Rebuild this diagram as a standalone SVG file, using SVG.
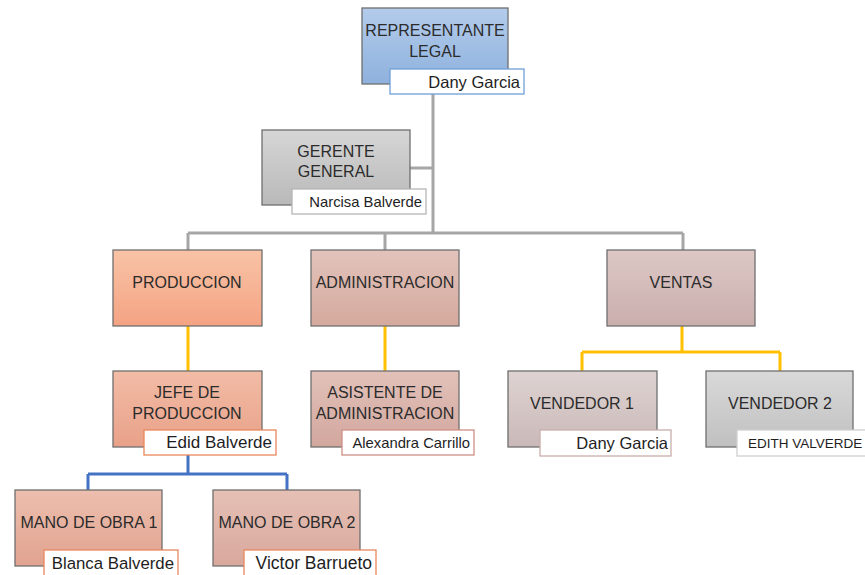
<svg xmlns="http://www.w3.org/2000/svg" width="865" height="575" viewBox="0 0 865 575">
<defs>
<linearGradient id="gBlue" x1="0" y1="0" x2="0" y2="1"><stop offset="0" stop-color="#b4cceb"/><stop offset="1" stop-color="#8eb1dd"/></linearGradient>
<linearGradient id="gGray" x1="0" y1="0" x2="0" y2="1"><stop offset="0" stop-color="#d6d6d6"/><stop offset="1" stop-color="#b9b9b9"/></linearGradient>
<linearGradient id="gProd" x1="0" y1="0" x2="0" y2="1"><stop offset="0" stop-color="#f9c3a6"/><stop offset="1" stop-color="#f4a383"/></linearGradient>
<linearGradient id="gAdm" x1="0" y1="0" x2="0" y2="1"><stop offset="0" stop-color="#e2c3bb"/><stop offset="1" stop-color="#d5a99d"/></linearGradient>
<linearGradient id="gVen" x1="0" y1="0" x2="0" y2="1"><stop offset="0" stop-color="#ddc8c6"/><stop offset="1" stop-color="#c9aeac"/></linearGradient>
<linearGradient id="gJefe" x1="0" y1="0" x2="0" y2="1"><stop offset="0" stop-color="#f2bca6"/><stop offset="1" stop-color="#e9a189"/></linearGradient>
<linearGradient id="gAsis" x1="0" y1="0" x2="0" y2="1"><stop offset="0" stop-color="#e2c1b9"/><stop offset="1" stop-color="#d2a79e"/></linearGradient>
<linearGradient id="gV1" x1="0" y1="0" x2="0" y2="1"><stop offset="0" stop-color="#ded3d2"/><stop offset="1" stop-color="#c9b9b8"/></linearGradient>
<linearGradient id="gV2" x1="0" y1="0" x2="0" y2="1"><stop offset="0" stop-color="#d9d9d9"/><stop offset="1" stop-color="#c0c0c0"/></linearGradient>
<linearGradient id="gM1" x1="0" y1="0" x2="0" y2="1"><stop offset="0" stop-color="#edbfae"/><stop offset="1" stop-color="#e1a390"/></linearGradient>
<linearGradient id="gM2" x1="0" y1="0" x2="0" y2="1"><stop offset="0" stop-color="#e6c0b5"/><stop offset="1" stop-color="#d9a89d"/></linearGradient>
</defs>
<style>
.box{stroke:#6f6f6f;stroke-width:1.3}
.name{fill:#ffffff;stroke-width:1.3}
.t{font-family:"Liberation Sans",Arial,sans-serif;font-size:16px;fill:#2b2b2b;text-anchor:middle}
.n{font-family:"Liberation Sans",Arial,sans-serif;font-size:16.5px;fill:#1e1e1e;text-anchor:end}
.cg{fill:none;stroke:#a6a6a6;stroke-width:3}
.cy{fill:none;stroke:#ffc000;stroke-width:3}
.cb{fill:none;stroke:#4472c4;stroke-width:3}
</style>
<g id="connectors">
<path class="cg" d="M433 94 V233 M410 168 H433 M188 233 H683 M188 233 V250 M385 233 V250 M683 233 V250"/>
<path class="cy" d="M188 326 V371 M385 326 V371 M682 326 V352 M582 352 H780 M582 352 V371 M780 352 V371"/>
<path class="cb" d="M188 455 V474 M88 474 H287 M88 474 V490 M287 474 V490"/>
</g>
<g id="representante">
<rect class="box" x="362" y="8" width="146" height="76" fill="url(#gBlue)"/>
<text class="t" x="435" y="36">REPRESENTANTE</text>
<text class="t" x="435" y="57">LEGAL</text>
<rect class="name" x="390" y="69" width="134" height="25" stroke="#6fa0d6"/>
<text class="n" x="520" y="88">Dany Garcia</text>
</g>
<g id="gerente">
<rect class="box" x="262" y="130" width="148" height="75" fill="url(#gGray)"/>
<text class="t" x="336" y="157">GERENTE</text>
<text class="t" x="336" y="177">GENERAL</text>
<rect class="name" x="292" y="189" width="134" height="25" stroke="#b5b5b5"/>
<text class="n" x="422" y="207" style="font-size:14.8px">Narcisa Balverde</text>
</g>
<g id="produccion">
<rect class="box" x="113" y="250" width="149" height="76" fill="url(#gProd)"/>
<text class="t" x="187" y="288">PRODUCCION</text>
</g>
<g id="administracion">
<rect class="box" x="311" y="250" width="148" height="76" fill="url(#gAdm)"/>
<text class="t" x="385" y="288">ADMINISTRACION</text>
</g>
<g id="ventas">
<rect class="box" x="607" y="250" width="148" height="76" fill="url(#gVen)"/>
<text class="t" x="681" y="288">VENTAS</text>
</g>
<g id="jefe">
<rect class="box" x="113" y="371" width="149" height="76" fill="url(#gJefe)"/>
<text class="t" x="187" y="398">JEFE DE</text>
<text class="t" x="187" y="419">PRODUCCION</text>
<rect class="name" x="144" y="430" width="132" height="25" stroke="#e8875c"/>
<text class="n" x="272" y="448" style="font-size:17px">Edid Balverde</text>
</g>
<g id="asistente">
<rect class="box" x="311" y="371" width="148" height="76" fill="url(#gAsis)"/>
<text class="t" x="385" y="398">ASISTENTE DE</text>
<text class="t" x="385" y="419">ADMINISTRACION</text>
<rect class="name" x="342" y="430" width="132" height="25" stroke="#cf8f86"/>
<text class="n" x="470" y="448" style="font-size:14.8px">Alexandra Carrillo</text>
</g>
<g id="vendedor1">
<rect class="box" x="508" y="371" width="149" height="76" fill="url(#gV1)"/>
<text class="t" x="582" y="409">VENDEDOR 1</text>
<rect class="name" x="540" y="430" width="131" height="26" stroke="#c9aeac"/>
<text class="n" x="668" y="449">Dany Garcia</text>
</g>
<g id="vendedor2">
<rect class="box" x="706" y="371" width="147" height="76" fill="url(#gV2)"/>
<text class="t" x="780" y="409">VENDEDOR 2</text>
<rect class="name" x="737" y="430" width="135" height="26" stroke="#cfcfcf"/>
<text class="n" x="748" y="448" style="text-anchor:start;font-size:13.5px">EDITH  VALVERDE</text>
</g>
<g id="mano1">
<rect class="box" x="15" y="490" width="147" height="76" fill="url(#gM1)"/>
<text class="t" x="89" y="528">MANO DE OBRA 1</text>
<rect class="name" x="44" y="550" width="134" height="27" stroke="#e8875c"/>
<text class="n" x="174" y="569" style="font-size:16.8px">Blanca Balverde</text>
</g>
<g id="mano2">
<rect class="box" x="213" y="490" width="147" height="76" fill="url(#gM2)"/>
<text class="t" x="287" y="528">MANO DE OBRA 2</text>
<rect class="name" x="244" y="550" width="132" height="27" stroke="#e8875c"/>
<text class="n" x="372" y="569" style="font-size:17.5px">Victor Barrueto</text>
</g>
</svg>
